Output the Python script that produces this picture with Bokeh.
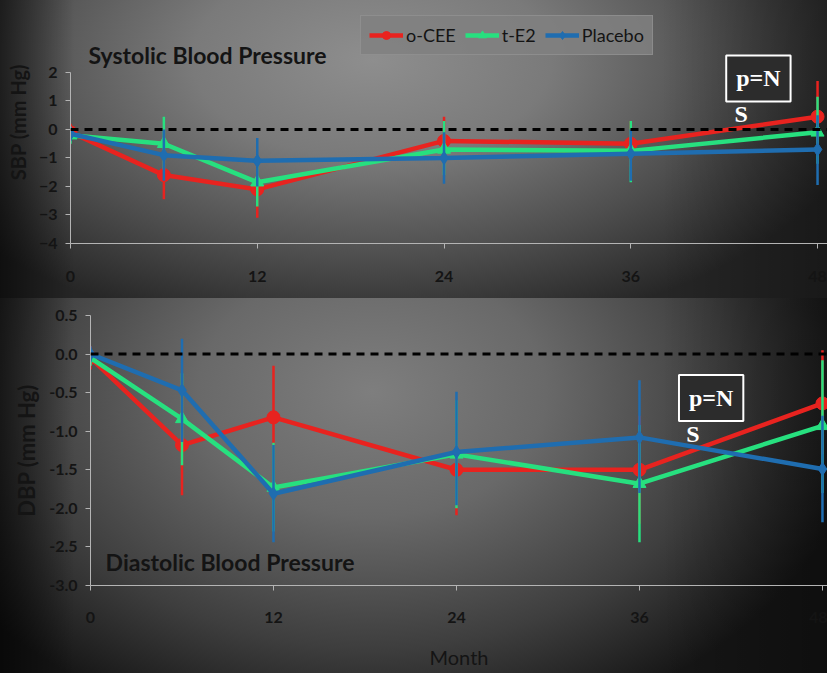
from bokeh.plotting import figure
from bokeh.models import Legend, LegendItem, Label, Span, FixedTicker, NumeralTickFormatter
from bokeh.embed import file_html
from bokeh.resources import INLINE

months = [0, 6, 12, 24, 36, 48]
month_ticks = [0, 12, 24, 36, 48]
series_names = ["o-CEE", "t-E2", "Placebo"]

# Systolic (SBP) change, mm Hg
sbp_ocee = [-0.1, -1.6, -2.1, -0.4, -0.5, 0.45]
sbp_ocee_lo = [-0.4, -2.45, -3.1, -1.2, -1.3, -0.7]
sbp_ocee_hi = [0.2, -0.75, -1.2, 0.45, 0.3, 1.7]
sbp_te2 = [-0.2, -0.5, -1.85, -0.7, -0.75, -0.1]
sbp_te2_lo = [-0.5, -1.4, -2.7, -1.6, -1.85, -1.2]
sbp_te2_hi = [0.1, 0.45, -1.0, 0.3, 0.3, 1.15]
sbp_pla = [-0.15, -0.9, -1.1, -1.0, -0.85, -0.7]
sbp_pla_lo = [-0.4, -1.8, -2.0, -1.9, -1.8, -1.95]
sbp_pla_hi = [0.1, 0.0, -0.3, -0.1, 0.0, 0.5]
sbp_ticks = [-4, -3, -2, -1, 0, 1, 2]

# Diastolic (DBP) change, mm Hg
dbp_ocee = [-0.05, -1.18, -0.82, -1.5, -1.5, -0.64]
dbp_ocee_lo = [-0.2, -1.83, -1.5, -2.09, -2.2, -1.3]
dbp_ocee_hi = [0.1, -0.55, -0.15, -0.9, -0.8, 0.05]
dbp_te2 = [-0.05, -0.84, -1.73, -1.3, -1.68, -0.93]
dbp_te2_lo = [-0.15, -1.44, -2.3, -2.0, -2.44, -1.8]
dbp_te2_hi = [0.05, -0.25, -1.15, -0.6, -0.92, -0.08]
dbp_pla = [0.0, -0.47, -1.81, -1.27, -1.08, -1.49]
dbp_pla_lo = [-0.1, -1.14, -2.44, -1.96, -1.8, -2.18]
dbp_pla_hi = [0.1, 0.2, -1.18, -0.49, -0.34, -0.8]
dbp_ticks = [-3.0, -2.5, -2.0, -1.5, -1.0, -0.5, 0.0, 0.5]

RED = "#e8231f"
GREEN = "#27e07f"
BLUE = "#1f6db0"
FONT = "Lato"
TXT = "#141414"
AXC = "#b4b4b4"


def style(p, yticks, ybounds, fmt=None):
    p.background_fill_alpha = 0
    p.border_fill_alpha = 0
    p.outline_line_color = None
    p.grid.grid_line_color = None
    p.xaxis.ticker = FixedTicker(ticks=month_ticks)
    p.yaxis.ticker = FixedTicker(ticks=yticks)
    p.yaxis.bounds = ybounds
    if fmt:
        p.yaxis.formatter = NumeralTickFormatter(format=fmt)
    for ax in (p.xaxis, p.yaxis):
        ax.axis_line_color = AXC
        ax.axis_line_width = 1
        ax.major_tick_line_color = AXC
        ax.major_tick_out = 5
        ax.major_tick_in = 0
        ax.minor_tick_line_color = None
        ax.major_label_text_font = FONT
        ax.major_label_text_font_size = "16px"
        ax.major_label_text_font_style = "bold"
        ax.major_label_text_color = TXT
        ax.axis_label_text_font = FONT
        ax.axis_label_text_font_style = "bold"
        ax.axis_label_text_color = TXT
    p.xaxis.major_label_standoff = 22
    p.yaxis.major_label_standoff = 8
    p.yaxis.axis_label_standoff = 6
    p.add_layout(Span(location=0, dimension="width", line_color="black",
                      line_width=3, line_dash="8 6"))


def draw(p, vals, lo, hi, color, marker, size):
    p.segment(x0=months, y0=lo, x1=months, y1=hi, line_color=color, line_width=2.5)
    ln = p.line(months, vals, line_color=color, line_width=4.5)
    mk = p.scatter(months, vals, marker=marker, size=size, fill_color=color,
                   line_color=color)
    return [ln, mk]


bg_top = ("linear-gradient(to right, rgba(0,0,0,0.6) 0%, rgba(0,0,0,0) 9%, "
          "rgba(0,0,0,0) 80%, rgba(0,0,0,0.35) 100%), "
          "radial-gradient(ellipse 62% 95% at 45% 20%, #8e8e8e 0%, #7a7a7a 35%, "
          "#4e4e4e 70%, #262626 100%)")
bg_bot = ("linear-gradient(to right, rgba(0,0,0,0.6) 0%, rgba(0,0,0,0) 9%, "
          "rgba(0,0,0,0) 80%, rgba(0,0,0,0.35) 100%), "
          "radial-gradient(ellipse 60% 95% at 45% 25%, #7e7e7e 0%, #696969 35%, "
          "#3e3e3e 72%, #161616 100%)")

p1 = figure(width=827, height=298, x_range=(0, 48.64), y_range=(-4, 4.526),
            output_backend="svg", toolbar_location=None,
            min_border_left=70, min_border_right=0, min_border_top=0,
            min_border_bottom=55, styles={"background": bg_top})
style(p1, sbp_ticks, (-4, 2))
p1.yaxis.axis_label = "SBP (mm Hg)"
p1.yaxis.axis_label_text_font_size = "20px"

r_red = draw(p1, sbp_ocee, sbp_ocee_lo, sbp_ocee_hi, RED, "circle", 13)
r_grn = draw(p1, sbp_te2, sbp_te2_lo, sbp_te2_hi, GREEN, "triangle", 13)
r_blu = draw(p1, sbp_pla, sbp_pla_lo, sbp_pla_hi, BLUE, "diamond", 13)

legend = Legend(items=[LegendItem(label=series_names[0], renderers=r_red),
                       LegendItem(label=series_names[1], renderers=r_grn),
                       LegendItem(label=series_names[2], renderers=r_blu)],
                orientation="horizontal", location=(290, 188),
                label_text_font=FONT, label_text_font_size="18px",
                label_text_color=TXT, glyph_width=34, glyph_height=20,
                label_standoff=3, spacing=9, padding=8, margin=0,
                background_fill_color="#808080", background_fill_alpha=0.85,
                border_line_color="#9c9c9c", border_line_width=1)
p1.add_layout(legend, "center")

p1.add_layout(Label(x=1.16, y=2.6, text="Systolic Blood Pressure",
                    text_font=FONT, text_font_style="bold", text_font_size="23px",
                    text_color=TXT, text_baseline="middle", text_align="left"))
p1.add_layout(Label(x=44.2, y=1.79, text="p=N", text_font="Liberation Serif",
                    text_font_style="bold", text_font_size="24px",
                    text_color="white", text_align="center", text_baseline="middle",
                    padding=10, border_line_color="white", border_line_width=2,
                    background_fill_color="#2c2c2c"))
p1.add_layout(Label(x=43.1, y=0.56, text="S", text_font="Liberation Serif",
                    text_font_style="bold", text_font_size="24px",
                    text_color="white", text_align="center", text_baseline="middle"))

p2 = figure(width=827, height=375, x_range=(0, 48.33), y_range=(-3, 0.5),
            output_backend="svg", toolbar_location=None,
            min_border_left=90, min_border_right=0, min_border_top=17,
            min_border_bottom=88, styles={"background": bg_bot})
style(p2, dbp_ticks, (-3, 0.5), "0.0")
p2.xaxis.major_label_standoff = 21
p2.yaxis.axis_label = "DBP (mm Hg)"
p2.yaxis.axis_label_text_font_size = "22px"
p2.xaxis.axis_label = "Month"
p2.xaxis.axis_label_standoff = 19
p2.xaxis.axis_label_text_font_style = "normal"
p2.xaxis.axis_label_text_font_size = "20px"

draw(p2, dbp_ocee, dbp_ocee_lo, dbp_ocee_hi, RED, "circle", 13)
draw(p2, dbp_te2, dbp_te2_lo, dbp_te2_hi, GREEN, "triangle", 13)
draw(p2, dbp_pla, dbp_pla_lo, dbp_pla_hi, BLUE, "diamond", 13)

p2.add_layout(Label(x=0.99, y=-2.70, text="Diastolic Blood Pressure",
                    text_font=FONT, text_font_style="bold", text_font_size="23px",
                    text_color=TXT, text_baseline="middle", text_align="left"))
p2.add_layout(Label(x=40.7, y=-0.57, text="p=N", text_font="Liberation Serif",
                    text_font_style="bold", text_font_size="24px",
                    text_color="white", text_align="center", text_baseline="middle",
                    padding=10, border_line_color="white", border_line_width=2,
                    background_fill_color="#2c2c2c"))
p2.add_layout(Label(x=39.5, y=-1.04, text="S", text_font="Liberation Serif",
                    text_font_style="bold", text_font_size="24px",
                    text_color="white", text_align="center", text_baseline="middle"))

open("out.html", "w").write(file_html([p1, p2], INLINE))
